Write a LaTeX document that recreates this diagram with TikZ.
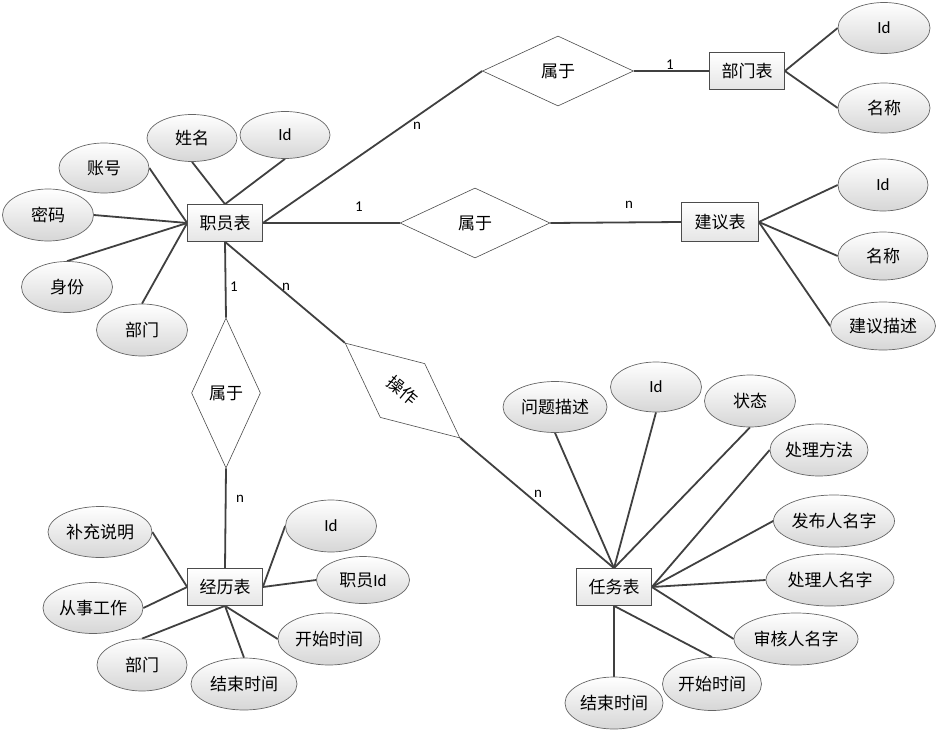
\documentclass[tikz,border=0pt]{standalone}
\usepackage{fontspec}
\setmainfont{Carlito}
\newfontfamily\cjk{Noto Sans CJK SC}
\usetikzlibrary{shapes.geometric,backgrounds}
\begin{document}
\begin{tikzpicture}[x=1pt,y=-1pt,
  base/.style={inner sep=0pt, font=\fontsize{17}{19}\selectfont\cjk},
  attr/.style={base, ellipse, draw=black!60, line width=0.7pt,
     top color=white, bottom color=black!16, minimum width=91pt, minimum height=51pt},
  ent/.style={base, rectangle, draw=black!70, line width=0.7pt,
     top color=white, bottom color=black!10, minimum width=75pt, minimum height=37pt},
  rel/.style={base, diamond, draw=black!70, line width=0.6pt, fill=white},
  conn/.style={draw=black!75, line width=1.8pt},
  lbl/.style={inner sep=0pt, font=\fontsize{15}{17}\selectfont}
]
\useasboundingbox (0,0) rectangle (939,733);

% entities
\node[ent] (staff) at (225,223) {职员表};
\node[ent] (dept) at (747,71) {部门表};
\node[ent, minimum width=77pt, minimum height=39pt] (sugg) at (720,222) {建议表};
\node[ent] (exp) at (225,587) {经历表};
\node[ent] (task) at (614,587) {任务表};

% relationships
\node[rel, minimum width=151pt, minimum height=70pt] (r1) at (558,71) {属于};
\node[rel, minimum width=150pt, minimum height=70pt] (r2) at (475,223) {属于};
\node[rel, minimum width=69pt, minimum height=150pt] (r3) at (226,393) {属于};
\node[rel, minimum width=149pt, minimum height=70pt, rotate=-39.6] (r4) at (402.5,390.5) {操作};

% staff attributes
\node[attr, minimum width=90pt, minimum height=47pt] (sName) at (192,138) {姓名};
\node[attr, minimum width=90pt, minimum height=47pt] (sId) at (285,135) {\normalfont Id};
\node[attr, minimum width=90pt, minimum height=50pt] (sAcc) at (104,168) {账号};
\node[attr, minimum height=52pt] (sPwd) at (48,215) {密码};
\node[attr] (sRole) at (67,287) {身份};
\node[attr, minimum height=52pt] (sDept) at (142,330) {部门};

% dept attributes
\node[attr, minimum width=92pt] (dId) at (884,28) {\normalfont Id};
\node[attr, minimum width=92pt, minimum height=50pt] (dName) at (884,108) {名称};

% suggestion attributes
\node[attr, minimum width=90pt, minimum height=52pt] (gId) at (883,185) {\normalfont Id};
\node[attr, minimum width=90pt, minimum height=48pt] (gName) at (883,256) {名称};
\node[attr, minimum width=105pt, minimum height=48pt] (gDesc) at (883,326) {建议描述};

% experience attributes
\node[attr, minimum width=104pt] (eNote) at (100,532) {补充说明};
\node[attr, minimum width=100pt] (eWork) at (93,608) {从事工作};
\node[attr, minimum width=90pt, minimum height=52pt] (eDept) at (142,665) {部门};
\node[attr, minimum width=106pt, minimum height=52pt] (eEnd) at (244,684) {结束时间};
\node[attr, minimum width=102pt, minimum height=52pt] (eStart) at (329,639) {开始时间};
\node[attr, minimum width=93pt, minimum height=47pt] (eSid) at (363,580) {职员{\normalfont Id}};
\node[attr, minimum height=52pt] (eId) at (331,526) {\normalfont Id};

% task attributes
\node[attr, minimum width=104pt] (tDesc) at (555,407) {问题描述};
\node[attr, minimum height=50pt] (tId) at (656,387) {\normalfont Id};
\node[attr, minimum height=52pt] (tState) at (750,401) {状态};
\node[attr, minimum width=98pt, minimum height=52pt] (tMeth) at (819,450) {处理方法};
\node[attr, minimum width=121pt, minimum height=52pt] (tPub) at (834,521) {发布人名字};
\node[attr, minimum width=128pt, minimum height=52pt] (tProc) at (830,580) {处理人名字};
\node[attr, minimum width=124pt, minimum height=52pt] (tAud) at (796,639) {审核人名字};
\node[attr, minimum width=99pt, minimum height=53pt] (tStart) at (712,684) {开始时间};
\node[attr, minimum width=98pt, minimum height=52pt] (tEnd) at (614,703) {结束时间};

% cardinality labels
\node[lbl] (l1) at (417,126) {n};
\node[lbl] (l2) at (670,65) {1};
\node[lbl] (l3) at (359,207) {1};
\node[lbl] (l4) at (629,205) {n};
\node[lbl] (l5) at (234,287) {1};
\node[lbl] (l6) at (286,287) {n};
\node[lbl] (l7) at (240,499) {n};
\node[lbl] (l8) at (538,494) {n};

\begin{pgfonlayer}{background}
  % relationship connectors
  \draw[conn] (staff.east) -- (r1.west);
  \draw[conn] (r1.east) -- (dept.west);
  \draw[conn] (staff.east) -- (r2.west);
  \draw[conn] (r2.east) -- (sugg.west);
  \draw[conn] (staff.south) -- (r3.north);
  \draw[conn] (r3.south) -- (exp.north);
  \draw[conn] (staff.south) -- (r4.west);
  \draw[conn] (r4.east) -- (task.north);
  % staff attributes
  \draw[conn] (sName.south) -- (staff.north);
  \draw[conn] (sId.south) -- (staff.north);
  \draw[conn] (sAcc.east) -- (staff.west);
  \draw[conn] (sPwd.east) -- (staff.west);
  \draw[conn] (sRole.north) -- (staff.west);
  \draw[conn] (sDept.north) -- (staff.west);
  % dept attributes
  \draw[conn] (dept.east) -- (dId.west);
  \draw[conn] (dept.east) -- (dName.west);
  % suggestion attributes
  \draw[conn] (sugg.east) -- (gId.west);
  \draw[conn] (sugg.east) -- (gName.west);
  \draw[conn] (sugg.east) -- (gDesc.west);
  % experience attributes
  \draw[conn] (eNote.east) -- (exp.west);
  \draw[conn] (eWork.east) -- (exp.west);
  \draw[conn] (eDept.north) -- (exp.south);
  \draw[conn] (eEnd.north) -- (exp.south);
  \draw[conn] (eStart.west) -- (exp.south);
  \draw[conn] (eSid.west) -- (exp.east);
  \draw[conn] (eId.west) -- (exp.east);
  % task attributes
  \draw[conn] (tDesc.south) -- (task.north);
  \draw[conn] (tId.south) -- (task.north);
  \draw[conn] (tState.south) -- (task.north);
  \draw[conn] (tMeth.west) -- (task.east);
  \draw[conn] (tPub.west) -- (task.east);
  \draw[conn] (tProc.west) -- (task.east);
  \draw[conn] (tAud.west) -- (task.east);
  \draw[conn] (tStart.north) -- (task.south);
  \draw[conn] (tEnd.north) -- (task.south);
\end{pgfonlayer}
\end{tikzpicture}
\end{document}
